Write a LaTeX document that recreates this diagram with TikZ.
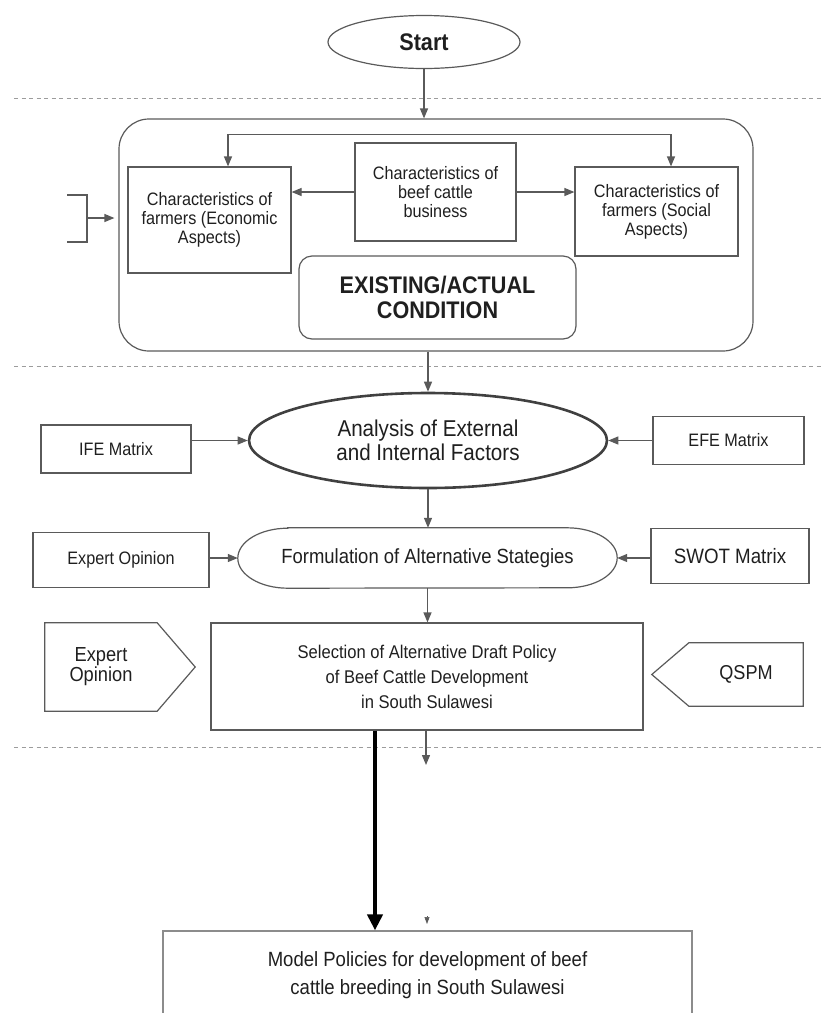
\documentclass[tikz,border=0pt]{standalone}
\usepackage{fontspec}
\setmainfont{Liberation Sans}[FakeStretch=0.9]
\usetikzlibrary{arrows.meta,shapes.geometric,calc}
\definecolor{linegray}{HTML}{5A5A5A}
\definecolor{dashgray}{HTML}{9C9C9C}
\begin{document}
\begin{tikzpicture}[x=1pt, y=1pt,
    box/.style={draw=linegray, line width=1.2pt, inner sep=0pt, align=center, text=black!88, font=\fontsize{18}{19}\selectfont},
    plain/.style={inner sep=0pt, align=center, text=black!88},
    outline/.style={draw=linegray, line width=1.2pt},
    arr/.style={draw=linegray, line width=1.2pt, -{Triangle[length=10pt,width=8pt]}},
    arrboth/.style={draw=linegray, line width=1.2pt, {Triangle[length=10pt,width=8pt]}-{Triangle[length=10pt,width=8pt]}},
    bigarr/.style={draw=black, line width=4pt, -{Triangle[length=16pt,width=15pt]}},
    sep/.style={draw=dashgray, line width=1pt, dash pattern=on 4pt off 3.5pt}]
    \useasboundingbox (0,0) rectangle (822,-1013);

    \draw[sep] (14,-98) -- (822,-98);
    \draw[sep] (14,-366) -- (822,-366);
    \draw[sep] (14,-747) -- (822,-747);

    \node[box, ellipse, minimum width=192pt, minimum height=53pt, font=\bfseries\fontsize{24}{25}\selectfont] (start) at (424,-42) {Start};

    \node[box, rounded corners=30pt, minimum width=634pt, minimum height=232pt] (exist) at (436,-235) {};
    \node[box, minimum width=163pt, minimum height=106pt] (econ) at (209.5,-220) {Characteristics of\\farmers (Economic\\Aspects)};
    \node[box, minimum width=161pt, minimum height=98pt] (biz) at (435.5,-192) {Characteristics of\\beef cattle\\business};
    \node[box, minimum width=163pt, minimum height=89pt] (social) at (656.5,-211.5) {Characteristics of\\farmers (Social\\Aspects)};
    \node[box, rounded corners=13pt, minimum width=277pt, minimum height=83pt, font=\bfseries\fontsize{24}{25}\selectfont] (cond) at (437.5,-297.5) {EXISTING/ACTUAL\\CONDITION};

    \draw[arr] (start.south) -- (start.south |- exist.north);
    \draw[arr] (biz.west) -- (biz.west -| econ.east);
    \draw[arr] (biz.east) -- (biz.east -| social.west);
    \draw[arrboth] ([xshift=18.5pt]econ.north) -- ++(0,32) -| ([xshift=14.5pt]social.north);

    \coordinate (brk) at (87,-218);
    \draw[outline] (67,-195) -| (brk) |- (67,-242);
    \draw[arr, shorten >=4pt] (brk) -- (brk -| exist.west);

    \node[box, ellipse, line width=2.6pt, draw=black!75, minimum width=358pt, minimum height=95pt, font=\fontsize{22.9}{24}\selectfont] (ana) at (428,-440.5) {Analysis of External\\and Internal Factors};
    \node[box, minimum width=150pt, minimum height=48pt] (ife) at (116,-449) {IFE Matrix};
    \node[box, minimum width=151pt, minimum height=48pt] (efe) at (728.5,-440.5) {EFE Matrix};

    \draw[arr] (ana.north |- exist.south) -- (ana.north);
    \draw[arr] (ana.west -| ife.east) -- (ana.west);
    \draw[arr] (efe.west) -- (ana.east);

    \node[plain, minimum width=379pt, minimum height=60pt, font=\fontsize{20.5}{22}\selectfont] (form) at (427.5,-558) {Formulation of Alternative Stategies};
    \draw[outline] ([xshift=50pt]form.north west) -- ([xshift=-50pt]form.north east)
        arc[start angle=90, end angle=-90, x radius=50pt, y radius=30pt]
        -- ([xshift=50pt]form.south west)
        arc[start angle=270, end angle=90, x radius=50pt, y radius=30pt] -- cycle;
    \node[box, minimum width=176pt, minimum height=55pt] (expA) at (121,-560) {Expert Opinion};
    \node[box, minimum width=158pt, minimum height=55pt, font=\fontsize{20.8}{22}\selectfont] (swot) at (730,-556) {SWOT Matrix};

    \draw[arr] (ana.south) -- (ana.south |- form.north);
    \draw[arr] (form.west -| expA.east) -- (form.west);
    \draw[arr] (form.east -| swot.west) -- (form.east);

    \node[box, minimum width=432pt, minimum height=107pt, font=\fontsize{18.4}{25}\selectfont] (sel) at (427,-676.5) {Selection of Alternative Draft Policy\\of Beef Cattle Development\\in South Sulawesi};
    \node[plain, minimum width=112pt, minimum height=88pt, font=\fontsize{20.3}{20}\selectfont] (expB) at (101,-667) {Expert\\Opinion};
    \draw[outline] (expB.north west) -- (expB.north east) -- ($(expB.east)+(38,0)$) -- (expB.south east) -- (expB.south west) -- cycle;
    \node[plain, minimum width=114pt, minimum height=63pt, font=\fontsize{20.1}{22}\selectfont] (qspm) at (746,-674.5) {QSPM};
    \draw[outline] (qspm.north east) -- (qspm.north west) -- ($(qspm.west)+(-37,0)$) -- (qspm.south west) -- (qspm.south east) -- cycle;

    \draw[arr] (form.south) -- (form.south |- sel.north);

    \node[box, draw=black!45, minimum width=529pt, minimum height=88pt, font=\fontsize{20.6}{28}\selectfont] (model) at (427.5,-975) {Model Policies for development of beef\\cattle breeding in South Sulawesi};

    \coordinate (selout) at (426,-765);
    \draw[arr] (sel.south -| selout) -- (selout);
    \draw[bigarr] ([xshift=-52pt]sel.south) -- ([xshift=-52pt]sel.south |- model.north);
    \coordinate (stub) at (427,-916);
    \draw[draw=linegray, line width=0.6pt, -{Triangle[length=7pt,width=5pt]}] (stub) -- ++(0,-8);
\end{tikzpicture}
\end{document}
